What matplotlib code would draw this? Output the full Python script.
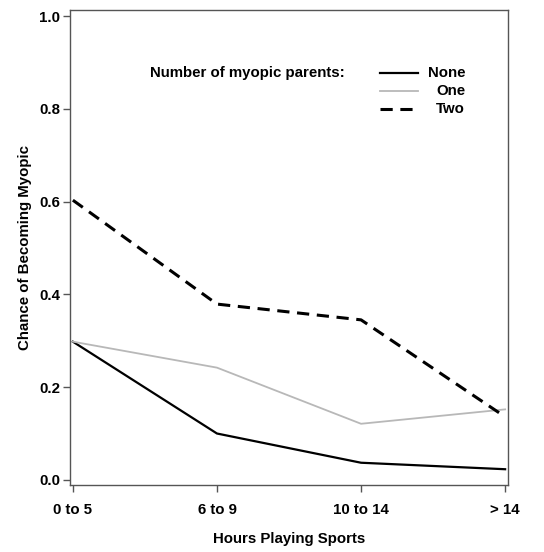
import matplotlib.pyplot as plt
import numpy as np
from matplotlib.lines import Line2D

plt.rcParams['font.family'] = ['Liberation Sans', 'DejaVu Sans']
plt.rcParams['font.weight'] = 'bold'

# Data
categories = ["0 to 5", "6 to 9", "10 to 14", "> 14"]
none_parents = [0.298, 0.100, 0.037, 0.023]
one_parent = [0.298, 0.242, 0.121, 0.152]
two_parents = [0.603, 0.379, 0.345, 0.136]
series_labels = ["None", "One", "Two"]

x = np.arange(len(categories))

fig = plt.figure(figsize=(5.44, 5.52), dpi=100)
ax = fig.add_axes([70 / 544, 1 - 485 / 552, (508 - 70) / 544, (485 - 10) / 552])

styles = [
    dict(color="black", lw=1.6, ls="-"),
    dict(color="#b8b8b8", lw=1.3, ls="-"),
    dict(color="black", lw=2.2, ls=(0, (4, 2.5))),
]
for vals, st in zip([none_parents, one_parent, two_parents], styles):
    ax.plot(x, vals, **st)

fs = 10.8
ax.set_xlim(-0.02, 3.02)
ax.set_ylim(-0.011, 1.013)
ax.set_xticks(x)
ax.set_xticklabels(categories, fontsize=fs, fontweight="bold")
ax.set_yticks([0.0, 0.2, 0.4, 0.6, 0.8, 1.0])
ax.set_yticklabels(["0.0", "0.2", "0.4", "0.6", "0.8", "1.0"], fontsize=fs, fontweight="bold")
ax.tick_params(length=5, width=1, color="#555555")
ax.tick_params(axis="x", pad=8)
ax.tick_params(axis="y", pad=2)
for sp in ax.spines.values():
    sp.set_color("#555555")
    sp.set_linewidth(1)

ax.set_xlabel("Hours Playing Sports", fontsize=fs, fontweight="bold", labelpad=11)
ax.set_ylabel("Chance of Becoming Myopic", fontsize=fs, fontweight="bold", labelpad=5)

# Legend drawn by hand: title on the left, right-aligned labels
tr = ax.transAxes
ax.text(0.182, 0.867, "Number of myopic parents:", transform=tr, fontsize=fs,
        fontweight="bold", va="center", ha="left")
row_y = [0.867, 0.829, 0.791]
for lab, st, yy in zip(series_labels, styles, row_y):
    ax.add_line(Line2D([0.708, 0.795], [yy, yy], transform=tr, **st))
    ax.text(0.902, yy, lab, transform=tr, fontsize=fs, fontweight="bold",
            va="center", ha="right")

fig.savefig("out.png", dpi=100)
